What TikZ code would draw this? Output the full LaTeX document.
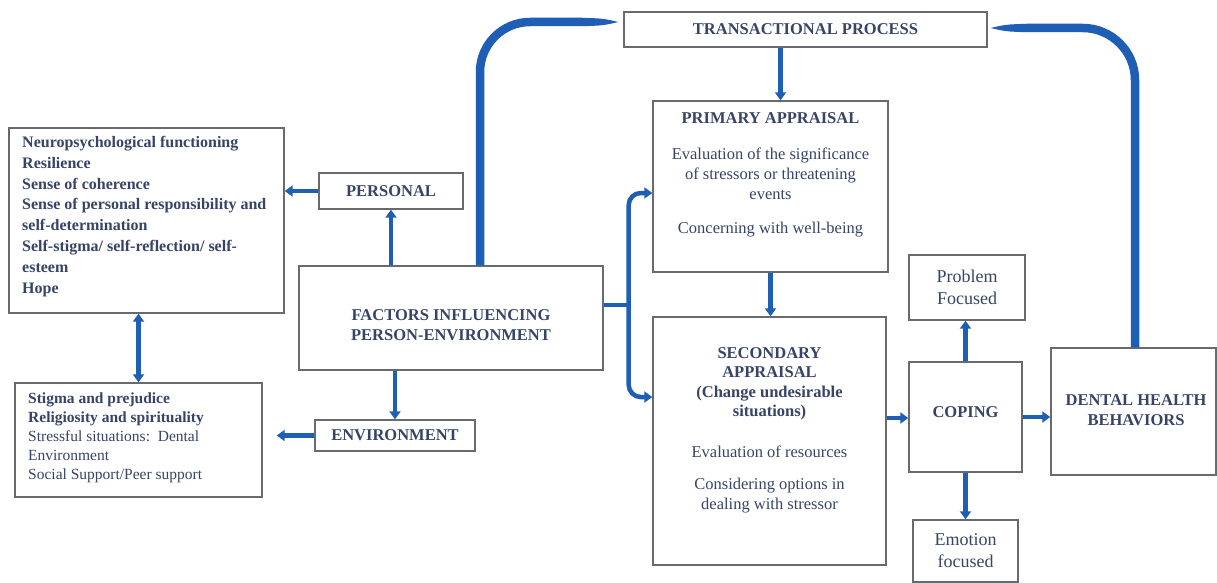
\documentclass[tikz,border=0pt]{standalone}
\usepackage{fontspec}
\setmainfont{Liberation Serif}
\usetikzlibrary{arrows.meta,calc}
\definecolor{arrc}{RGB}{30,94,180}
\definecolor{txtc}{RGB}{55,68,102}
\definecolor{boxc}{RGB}{105,105,112}
\begin{document}
\begin{tikzpicture}[x=1pt,y=-1pt,
  box/.style={draw=boxc, line width=1.4pt, fill=white, inner sep=0pt, text=txtc, align=center,
              font=\bfseries\fontsize{16.5}{20}\selectfont},
  lbl/.style={text=txtc, inner sep=0pt, align=center, font=\fontsize{16.5}{20}\selectfont},
  conn/.style={draw=arrc, line width=4.5pt, -{Triangle[width=11pt,length=8pt]}},
  dconn/.style={draw=arrc, line width=4.5pt, {Triangle[width=11pt,length=8pt]}-{Triangle[width=11pt,length=8pt]}},
  bigconn/.style={draw=arrc, line width=8.5pt},
  taper/.style={fill=arrc}]
\fill[white] (0,0) rectangle (1217,583);
\useasboundingbox (0,0) rectangle (1217,583);

% boxes
\node[box, minimum width=275pt, minimum height=185pt] (lt) at (146.5,220.5) {};
\node[box, minimum width=247pt, minimum height=114pt] (lb) at (138.5,440) {};
\node[box, minimum width=144pt, minimum height=36pt] (pers) at (391,191) {PERSONAL};
\node[box, minimum width=304pt, minimum height=104pt] (fac) at (451,318) {};
\node[box, minimum width=160pt, minimum height=31pt] (env) at (395,435.5) {ENVIRONMENT};
\node[box, minimum width=363pt, minimum height=35pt] (tra) at (805.5,29.5) {TRANSACTIONAL PROCESS};
\node[box, minimum width=235pt, minimum height=171pt] (pri) at (770.5,186.5) {};
\node[box, minimum width=233pt, minimum height=248pt] (sec) at (769.5,441) {};
\node[box, minimum width=116pt, minimum height=65pt, font=\fontsize{18}{22}\selectfont] (prob) at (967,287.5) {Problem\\Focused};
\node[box, minimum width=113pt, minimum height=110pt] (cop) at (965.5,417) {};
\node[box, minimum width=105pt, minimum height=62pt, font=\fontsize{18}{22}\selectfont] (emo) at (965.5,551) {Emotion\\focused};
\node[box, minimum width=165pt, minimum height=127pt] (den) at (1133.5,411.5) {};

% texts
\node[lbl, anchor=north west, align=left, font=\bfseries\fontsize{16}{20.8}\selectfont] (ltT) at (22,136)
  {Neuropsychological functioning\\Resilience\\Sense of coherence\\Sense of personal responsibility and\\self-determination\\Self-stigma/ self-reflection/ self-\\esteem\\Hope};
\node[lbl, anchor=north west, align=left, font=\fontsize{15.5}{18.8}\selectfont] (lbT) at (28,393)
  {\textbf{Stigma and prejudice}\\\textbf{Religiosity and spirituality}\\Stressful situations:\enspace Dental\\Environment\\Social Support/Peer support};
\node[lbl, font=\bfseries\fontsize{16.5}{20}\selectfont] (facT) at (451,325) {FACTORS INFLUENCING\\PERSON-ENVIRONMENT};
\node[lbl, anchor=north] (priT) at (770.5,112)
  {\textbf{PRIMARY APPRAISAL}\\[16pt]Evaluation of the significance\\of stressors or threatening\\events\\[14pt]Concerning with well-being};
\node[lbl, anchor=north, font=\fontsize{16.5}{19.5}\selectfont] (secT) at (769.5,347)
  {\textbf{SECONDARY}\\\textbf{APPRAISAL}\\\textbf{(Change undesirable}\\\textbf{situations)}\\[21pt]Evaluation of resources\\[13pt]Considering options in\\dealing with stressor};
\node[lbl, font=\bfseries\fontsize{16.5}{20}\selectfont] (copT) at (965.5,412) {COPING};
\node[lbl, font=\bfseries\fontsize{16.5}{20}\selectfont] (denT) at (1136,410) {DENTAL HEALTH\\BEHAVIORS};

% connectors
\draw[conn] (fac.north -| pers.south) -- (pers.south);
\draw[conn] (pers.west) -- (pers.west -| lt.east);
\draw[conn] (fac.south -| env.north) -- (env.north);
\draw[conn, shorten >=14pt] (env.west) -- (env.west -| lb.east);
\draw[dconn] (lt.south -| lb.north) -- (lb.north);
\draw[conn] ([xshift=-25pt]tra.south) -- ([xshift=-25pt]tra.south |- pri.north);
\draw[conn] (pri.south) -- (pri.south |- sec.north);
\draw[conn] ([yshift=23pt]sec.east) -- ([yshift=23pt]sec.east -| cop.west);
\draw[conn] (cop.east) -- (cop.east -| den.west);
\draw[conn] (cop.north) -- (cop.north |- prob.south);
\draw[conn] (cop.south) -- (cop.south |- emo.north);
\coordinate (br) at ([xshift=25pt,yshift=13pt]fac.east);
\draw[draw=arrc, line width=4.5pt] ([yshift=13pt]fac.east) -- (br);
\draw[conn, rounded corners=12pt] (br) |- ([yshift=-6.5pt]pri.west);
\draw[conn, rounded corners=12pt] (br) |- ([yshift=44pt]sec.west);

% big feedback connectors with tapered ends
\coordinate (tipL) at ([xshift=-5pt,yshift=7.5pt]tra.west);
\coordinate (tipR) at ([xshift=3pt,yshift=1.5pt]tra.east);
\draw[bigconn] ([xshift=29pt]fac.north) -- (480,72)
  .. controls (480,44.4) and (502.4,22) .. (530,22) -- ($(tipL)+(-36,0)$);
\fill[taper] ($(tipL)+(-36.5,-4.25)$) .. controls ($(tipL)+(-15,-3.5)$) .. (tipL)
  .. controls ($(tipL)+(-15,3.5)$) .. ($(tipL)+(-36.5,4.25)$) -- cycle;
\draw[bigconn] ([xshift=1.5pt]den.north) -- (1135,80)
  .. controls (1135,51.3) and (1111.3,28) .. (1083,28) -- ($(tipR)+(36,0)$);
\fill[taper] ($(tipR)+(36.5,-4.25)$) .. controls ($(tipR)+(15,-3.5)$) .. (tipR)
  .. controls ($(tipR)+(15,3.5)$) .. ($(tipR)+(36.5,4.25)$) -- cycle;
\end{tikzpicture}
\end{document}
